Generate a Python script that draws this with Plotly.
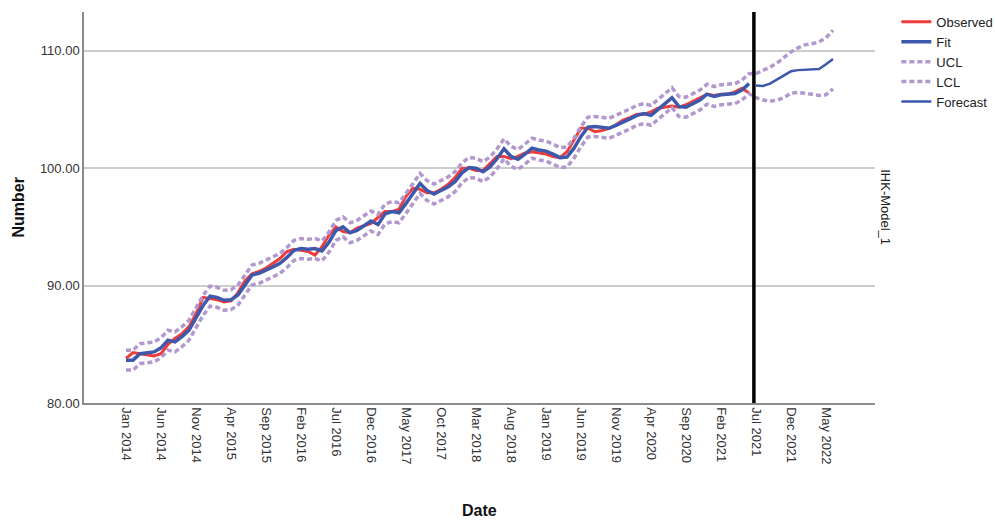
import plotly.graph_objects as go
import pandas as pd

# ---- data ----
months = [d.strftime("%b %Y") for d in pd.date_range("2014-01-01", "2022-06-01", freq="MS")]
hist_months = months[:90]
fc_months = months[90:]

observed = [83.8, 84.3, 84.2, 84.1, 84.0, 84.2, 85.0, 85.5, 85.9, 86.5,
            87.6, 89.0, 88.9, 88.8, 88.6, 88.7, 89.4, 90.4, 91.0, 91.2,
            91.5, 91.9, 92.3, 92.9, 93.1, 93.0, 92.9, 92.6, 93.3, 94.3,
            95.0, 94.6, 94.5, 94.9, 95.1, 95.3, 95.8, 96.3, 96.3, 96.5,
            97.6, 98.3, 98.2, 97.9, 97.9, 98.2, 98.6, 99.2, 100.0, 100.0,
            99.8, 99.8, 100.4, 101.0, 101.0, 100.8, 101.0, 101.3, 101.4, 101.3,
            101.2, 101.0, 100.9, 101.4, 102.4, 103.4, 103.4, 103.1, 103.2, 103.4,
            103.7, 104.1, 104.3, 104.6, 104.6, 104.8, 105.1, 105.2, 105.3, 105.2,
            105.4, 105.7, 106.0, 106.3, 106.2, 106.3, 106.3, 106.5, 106.8, 106.4]

fit = [83.65, 83.65, 84.2, 84.3, 84.35, 84.7, 85.35, 85.2, 85.65, 86.2,
       87.2, 88.3, 89.1, 89.0, 88.75, 88.8, 89.2, 90.0, 90.9, 91.05,
       91.3, 91.6, 91.9, 92.4, 93.0, 93.15, 93.1, 93.15, 92.95, 93.7,
       94.7, 95.0, 94.5, 94.7, 95.1, 95.5, 95.2, 96.1, 96.3, 96.2,
       97.0, 97.9, 98.7, 98.1, 97.8, 98.1, 98.4, 98.85, 99.6, 100.05,
       100.0, 99.7, 100.1, 100.8, 101.65, 101.0, 100.75, 101.2, 101.7, 101.55,
       101.45, 101.2, 100.9, 100.95, 101.7, 102.7, 103.5, 103.55, 103.5, 103.4,
       103.65, 103.9, 104.2, 104.5, 104.65, 104.5, 105.05, 105.5, 106.0, 105.25,
       105.2, 105.5, 105.8, 106.3, 106.1, 106.25, 106.3, 106.35, 106.65, 107.2]

ucl = [84.50, 84.50, 85.05, 85.15, 85.20, 85.55, 86.20, 86.05, 86.50, 87.05,
       88.05, 89.15, 89.95, 89.85, 89.60, 89.65, 90.05, 90.85, 91.75, 91.90,
       92.15, 92.45, 92.75, 93.25, 93.85, 94.00, 93.95, 94.00, 93.80, 94.55,
       95.55, 95.85, 95.35, 95.55, 95.95, 96.35, 96.05, 96.95, 97.15, 97.05,
       97.85, 98.75, 99.55, 98.95, 98.65, 98.95, 99.25, 99.70, 100.45, 100.90,
       100.85, 100.55, 100.95, 101.65, 102.50, 101.85, 101.60, 102.05, 102.55, 102.40,
       102.30, 102.05, 101.75, 101.80, 102.55, 103.55, 104.35, 104.40, 104.35, 104.25,
       104.50, 104.75, 105.05, 105.35, 105.50, 105.35, 105.90, 106.35, 106.85, 106.10,
       106.05, 106.35, 106.65, 107.15, 106.95, 107.10, 107.15, 107.20, 107.50, 108.05,
       108.06, 108.3, 108.6, 108.95, 109.4, 109.9, 110.25, 110.5, 110.6, 110.75, 111.1, 111.75]

lcl = [82.80, 82.80, 83.35, 83.45, 83.50, 83.85, 84.50, 84.35, 84.80, 85.35,
       86.35, 87.45, 88.25, 88.15, 87.90, 87.95, 88.35, 89.15, 90.05, 90.20,
       90.45, 90.75, 91.05, 91.55, 92.15, 92.30, 92.25, 92.30, 92.10, 92.85,
       93.85, 94.15, 93.65, 93.85, 94.25, 94.65, 94.35, 95.25, 95.45, 95.35,
       96.15, 97.05, 97.85, 97.25, 96.95, 97.25, 97.55, 98.00, 98.75, 99.20,
       99.15, 98.85, 99.25, 99.95, 100.80, 100.15, 99.90, 100.35, 100.85, 100.70,
       100.60, 100.35, 100.05, 100.10, 100.85, 101.85, 102.65, 102.70, 102.65, 102.55,
       102.80, 103.05, 103.35, 103.65, 103.80, 103.65, 104.20, 104.65, 105.15, 104.40,
       104.35, 104.65, 104.95, 105.45, 105.25, 105.40, 105.45, 105.50, 105.80, 106.35,
       106.0, 105.8, 105.7, 105.8, 106.0, 106.4, 106.45, 106.4, 106.3, 106.2, 106.25, 106.75]

forecast = [107.05, 107.0, 107.2, 107.55, 107.95, 108.25, 108.35, 108.4, 108.42, 108.45, 108.85, 109.3]

tick_labels = ["Jan 2014", "Jun 2014", "Nov 2014", "Apr 2015", "Sep 2015", "Feb 2016",
               "Jul 2016", "Dec 2016", "May 2017", "Oct 2017", "Mar 2018", "Aug 2018",
               "Jan 2019", "Jun 2019", "Nov 2019", "Apr 2020", "Sep 2020", "Feb 2021",
               "Jul 2021", "Dec 2021", "May 2022"]
forecast_start = "Jul 2021"

RED = "#EE3B3B"
BLUE = "#3E58AC"
PURPLE = "#B298CE"

fig = go.Figure()
fig.add_trace(go.Scatter(x=hist_months, y=observed, name="Observed", mode="lines",
                         line=dict(color=RED, width=3)))
fig.add_trace(go.Scatter(x=hist_months, y=fit, name="Fit", mode="lines",
                         line=dict(color=BLUE, width=3.5)))
fig.add_trace(go.Scatter(x=months, y=ucl, name="UCL", mode="lines",
                         line=dict(color=PURPLE, width=3.5, dash="5px,3px")))
fig.add_trace(go.Scatter(x=months, y=lcl, name="LCL", mode="lines",
                         line=dict(color=PURPLE, width=3.5, dash="5px,3px")))
fig.add_trace(go.Scatter(x=fc_months, y=forecast, name="Forecast", mode="lines",
                         line=dict(color=BLUE, width=2.5)))

start_idx = months.index(forecast_start)
fig.add_shape(type="line", xref="x", yref="paper", x0=start_idx - 0.3, x1=start_idx - 0.3,
              y0=0, y1=1, line=dict(color="black", width=3.5))

fig.update_layout(
    width=995, height=522,
    margin=dict(l=84, r=120, t=12, b=119, autoexpand=False),
    paper_bgcolor="white", plot_bgcolor="white",
    font=dict(family="Liberation Sans, Arial, sans-serif", size=13, color="#333333"),
    showlegend=True,
    legend=dict(x=1.027, y=1.013, xanchor="left", yanchor="top",
                font=dict(size=13, color="#222222"), tracegroupgap=0,
                bgcolor="rgba(0,0,0,0)", itemwidth=30),
    annotations=[
        dict(text="<b>Number</b>", xref="paper", yref="paper", x=-0.0834, y=0.5,
             textangle=-90, showarrow=False, font=dict(size=16, color="#111111"),
             xanchor="center", yanchor="middle"),
        dict(text="<b>Date</b>", xref="paper", yref="paper", x=0.5, y=-0.276,
             showarrow=False, font=dict(size=16, color="#111111"),
             xanchor="center", yanchor="middle"),
        dict(text="IHK-Model_1", xref="paper", yref="paper", x=1.013, y=0.5,
             textangle=90, showarrow=False, font=dict(size=13, color="#222222"),
             xanchor="center", yanchor="middle"),
    ],
)
fig.update_xaxes(type="category", categoryorder="array", categoryarray=months,
                 range=[-6, 107], tickmode="array", tickvals=tick_labels, ticktext=tick_labels,
                 tickangle=90, showgrid=False, showline=True, linecolor="#8c8c8c", linewidth=1.5,
                 ticks="", ticklen=0, zeroline=False, automargin=False,
                 tickfont=dict(size=13, color="#333333"))
fig.update_yaxes(range=[80, 113.3], tickmode="array", tickvals=[80, 90, 100, 110],
                 tickformat=".2f", showgrid=True, gridcolor="#cccccc", gridwidth=1.5,
                 showline=True, linecolor="#8c8c8c", linewidth=1.5, ticks="",
                 zeroline=False, automargin=False, tickfont=dict(size=13, color="#333333"))

fig.write_html("out.html", config={"displayModeBar": False},
               post_script="document.body.style.margin='0';document.body.style.overflow='hidden';")
